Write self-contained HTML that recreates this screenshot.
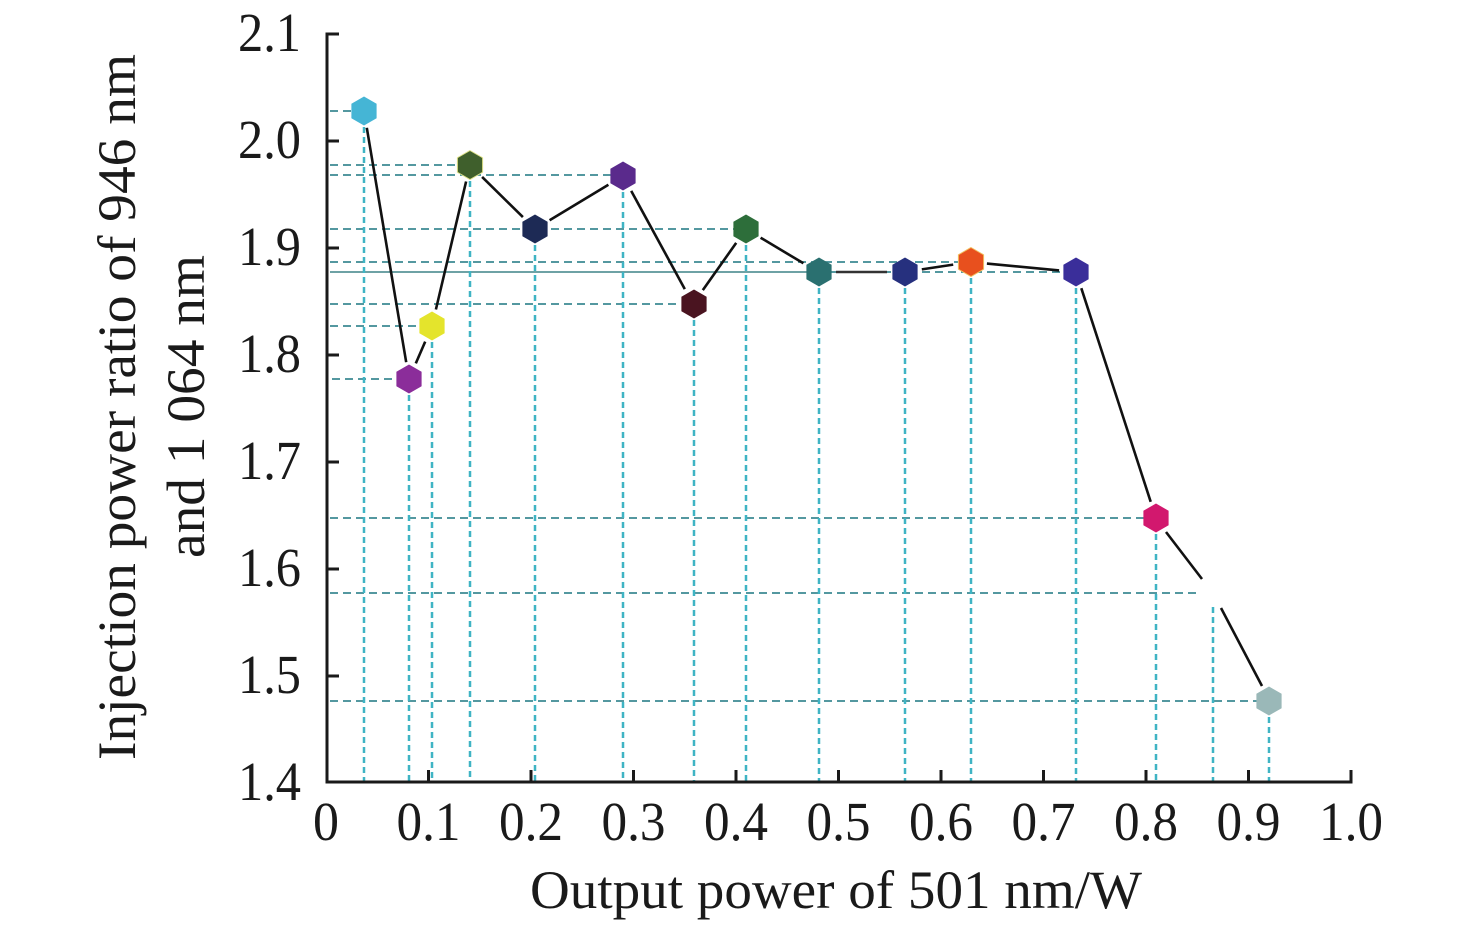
<!DOCTYPE html>
<html><head><meta charset="utf-8"><style>
html,body{margin:0;padding:0;background:#fff;}
svg{display:block;}
text{font-family:"Liberation Serif","DejaVu Serif",serif;fill:#1a1a1a;}
</style></head><body>
<svg width="1476" height="931" viewBox="0 0 1476 931" xmlns="http://www.w3.org/2000/svg">
<defs>
<polygon id="hx" points="0,-14.5 12.6,-7.25 12.6,7.25 0,14.5 -12.6,7.25 -12.6,-7.25"/>
</defs>
<!-- horizontal reference lines -->
<g stroke="#3d8a92" stroke-width="1.7" stroke-dasharray="8,5" fill="none">
<line x1="330" y1="111" x2="352" y2="111"/>
<line x1="330" y1="165" x2="458" y2="165"/>
<line x1="330" y1="175" x2="612" y2="175"/>
<line x1="330" y1="229" x2="735" y2="229"/>
<line x1="330" y1="262" x2="958" y2="262"/>
<line x1="818" y1="272" x2="1064" y2="272"/>
<line x1="330" y1="304" x2="681" y2="304"/>
<line x1="330" y1="326" x2="420" y2="326"/>
<line x1="332" y1="379" x2="397" y2="379"/>
<line x1="330" y1="518" x2="1144" y2="518"/>
<line x1="330" y1="593" x2="1200" y2="593"/>
<line x1="330" y1="701" x2="1257" y2="701"/>
</g>
<line x1="330" y1="272" x2="818" y2="272" stroke="#5a9498" stroke-width="1.7"/>
<!-- vertical reference lines -->
<g stroke="#3fb4c4" stroke-width="2.5" stroke-dasharray="6,4" fill="none">
<line x1="364" y1="127" x2="364" y2="781"/>
<line x1="409" y1="395" x2="409" y2="781"/>
<line x1="432" y1="342" x2="432" y2="781"/>
<line x1="470" y1="181" x2="470" y2="781"/>
<line x1="535" y1="245" x2="535" y2="781"/>
<line x1="623" y1="192" x2="623" y2="781"/>
<line x1="694" y1="320" x2="694" y2="781"/>
<line x1="746" y1="245" x2="746" y2="781"/>
<line x1="819" y1="288" x2="819" y2="781"/>
<line x1="905" y1="288" x2="905" y2="781"/>
<line x1="971" y1="278" x2="971" y2="781"/>
<line x1="1076" y1="288" x2="1076" y2="781"/>
<line x1="1156" y1="534" x2="1156" y2="781"/>
<line x1="1213" y1="607" x2="1213" y2="781"/>
<line x1="1269" y1="717" x2="1269" y2="781"/>
</g>
<!-- data line segments -->
<g stroke="#111" stroke-width="2.6" fill="none" stroke-linecap="butt">
<line x1="366.8" y1="127.8" x2="406.2" y2="362.2"/>
<line x1="415.8" y1="363.4" x2="425.2" y2="341.6"/>
<line x1="435.9" y1="309.5" x2="466.1" y2="181.5"/>
<line x1="482.1" y1="176.9" x2="522.9" y2="217.1"/>
<line x1="549.6" y1="220.2" x2="608.4" y2="184.8"/>
<line x1="631.2" y1="190.9" x2="684.8" y2="289.1"/>
<line x1="702.8" y1="290.1" x2="736.2" y2="242.9"/>
<line x1="760.6" y1="237.7" x2="803.4" y2="263.3"/>
<line x1="836" y1="272" x2="887" y2="272" stroke="#333"/>
<line x1="921.8" y1="269.4" x2="953.2" y2="264.6"/>
<line x1="986.9" y1="263.6" x2="1059.1" y2="270.4"/>
<line x1="1081.3" y1="288.2" x2="1150.7" y2="501.8"/>
<line x1="1166" y1="532" x2="1202" y2="579"/>
<line x1="1221" y1="608" x2="1262" y2="686"/>
</g>
<!-- markers -->
<use href="#hx" x="364" y="111" fill="#45b5d5"/>
<use href="#hx" x="409" y="379" fill="#8b2d9a"/>
<use href="#hx" x="432" y="326" fill="#e4e42c"/>
<use href="#hx" x="470" y="165" fill="#3f5f2c" stroke="#dfe28a" stroke-width="1"/>
<use href="#hx" x="535" y="229" fill="#1d2a55"/>
<use href="#hx" x="623" y="176" fill="#5a2a8c"/>
<use href="#hx" x="694" y="304" fill="#4a1420"/>
<use href="#hx" x="746" y="229" fill="#2d6e3a"/>
<use href="#hx" x="819" y="272" fill="#2a7070"/>
<use href="#hx" x="905" y="272" fill="#26307e"/>
<use href="#hx" x="971" y="262" fill="#e8501e" stroke="#f2c060" stroke-width="1"/>
<use href="#hx" x="1076" y="272" fill="#3a2e9a"/>
<use href="#hx" x="1156" y="518" fill="#d2186e"/>
<use href="#hx" x="1269" y="701" fill="#9ab8b8"/>
<!-- axes -->
<g stroke="#1a1a1a" stroke-width="3" fill="none">
<line x1="327" y1="32.5" x2="327" y2="783.5"/>
<line x1="325.5" y1="782" x2="1352.5" y2="782"/>
<line x1="327" y1="34" x2="339" y2="34"/>
<line x1="327" y1="141" x2="339" y2="141"/>
<line x1="327" y1="248" x2="339" y2="248"/>
<line x1="327" y1="355" x2="339" y2="355"/>
<line x1="327" y1="462" x2="339" y2="462"/>
<line x1="327" y1="569" x2="339" y2="569"/>
<line x1="327" y1="676" x2="339" y2="676"/>
<line x1="428.5" y1="782" x2="428.5" y2="770"/>
<line x1="531" y1="782" x2="531" y2="770"/>
<line x1="633.5" y1="782" x2="633.5" y2="770"/>
<line x1="736" y1="782" x2="736" y2="770"/>
<line x1="838.5" y1="782" x2="838.5" y2="770"/>
<line x1="941" y1="782" x2="941" y2="770"/>
<line x1="1043.5" y1="782" x2="1043.5" y2="770"/>
<line x1="1146" y1="782" x2="1146" y2="770"/>
<line x1="1248.5" y1="782" x2="1248.5" y2="770"/>
<line x1="1351" y1="782" x2="1351" y2="770"/>
</g>
<!-- y tick labels -->
<g font-size="55">
<text x="238" y="51" textLength="63" lengthAdjust="spacingAndGlyphs">2.1</text>
<text x="238" y="158" textLength="63" lengthAdjust="spacingAndGlyphs">2.0</text>
<text x="238" y="265" textLength="63" lengthAdjust="spacingAndGlyphs">1.9</text>
<text x="238" y="372" textLength="63" lengthAdjust="spacingAndGlyphs">1.8</text>
<text x="238" y="479" textLength="63" lengthAdjust="spacingAndGlyphs">1.7</text>
<text x="238" y="586" textLength="63" lengthAdjust="spacingAndGlyphs">1.6</text>
<text x="238" y="693" textLength="63" lengthAdjust="spacingAndGlyphs">1.5</text>
<text x="238" y="800" textLength="63" lengthAdjust="spacingAndGlyphs">1.4</text>
</g>
<!-- x tick labels -->
<g font-size="55">
<text x="313" y="840" textLength="26" lengthAdjust="spacingAndGlyphs">0</text>
<text x="396.5" y="840" textLength="64" lengthAdjust="spacingAndGlyphs">0.1</text>
<text x="499" y="840" textLength="64" lengthAdjust="spacingAndGlyphs">0.2</text>
<text x="601.5" y="840" textLength="64" lengthAdjust="spacingAndGlyphs">0.3</text>
<text x="704" y="840" textLength="64" lengthAdjust="spacingAndGlyphs">0.4</text>
<text x="806.5" y="840" textLength="64" lengthAdjust="spacingAndGlyphs">0.5</text>
<text x="909" y="840" textLength="64" lengthAdjust="spacingAndGlyphs">0.6</text>
<text x="1011.5" y="840" textLength="64" lengthAdjust="spacingAndGlyphs">0.7</text>
<text x="1114" y="840" textLength="64" lengthAdjust="spacingAndGlyphs">0.8</text>
<text x="1216.5" y="840" textLength="64" lengthAdjust="spacingAndGlyphs">0.9</text>
<text x="1319" y="840" textLength="64" lengthAdjust="spacingAndGlyphs">1.0</text>
</g>
<!-- axis titles -->
<text x="530" y="908" font-size="54" textLength="612" lengthAdjust="spacingAndGlyphs">Output power of 501 nm/W</text>
<text transform="translate(135,760) rotate(-90)" font-size="54" textLength="706" lengthAdjust="spacingAndGlyphs">Injection power ratio of 946 nm</text>
<text transform="translate(204,558) rotate(-90)" font-size="54" textLength="303" lengthAdjust="spacingAndGlyphs">and 1 064 nm</text>
</svg>
</body></html>
